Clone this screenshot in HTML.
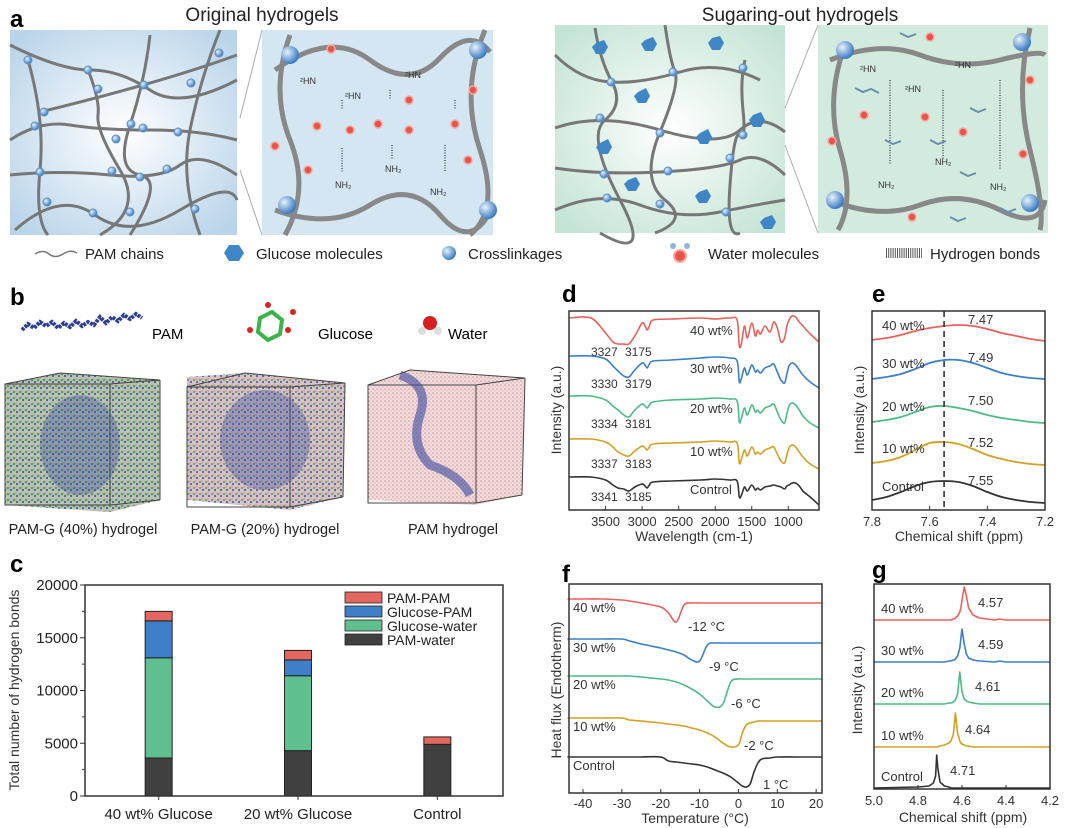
<!DOCTYPE html>
<html><head><meta charset="utf-8"><style>
html,body{margin:0;padding:0;background:#fff;}
svg{display:block;font-family:"Liberation Sans",Arial,sans-serif;}
</style></head><body>
<svg id="fig" width="1080" height="828" viewBox="0 0 1080 828" xmlns="http://www.w3.org/2000/svg">
<defs>
<radialGradient id="gBlue" cx="50%" cy="50%" r="65%"><stop offset="0" stop-color="#ffffff"/><stop offset="1" stop-color="#b9d4e9"/></radialGradient>
<radialGradient id="gGreen" cx="50%" cy="50%" r="65%"><stop offset="0" stop-color="#ffffff"/><stop offset="1" stop-color="#c4e4d4"/></radialGradient>
<radialGradient id="gNode" cx="35%" cy="35%" r="65%"><stop offset="0" stop-color="#e8f2fb"/><stop offset="1" stop-color="#3a7cc4"/></radialGradient>
<pattern id="pat40" width="6" height="6" patternUnits="userSpaceOnUse"><rect width="6" height="6" fill="#b9c6b3"/><circle cx="2" cy="2" r="1.3" fill="#5d9a5e"/><circle cx="5" cy="4" r="1.1" fill="#4a5aa8"/><circle cx="4" cy="1" r="0.7" fill="#d48b8b"/></pattern>
<pattern id="pat20" width="6" height="6" patternUnits="userSpaceOnUse"><rect width="6" height="6" fill="#d6c3c3"/><circle cx="2" cy="2" r="1.1" fill="#6aa26b"/><circle cx="5" cy="4" r="1.1" fill="#5563ad"/><circle cx="4" cy="1" r="0.8" fill="#d88"/></pattern>
<pattern id="patPam" width="4" height="4" patternUnits="userSpaceOnUse"><rect width="4" height="4" fill="#f1dede"/><circle cx="1" cy="1" r="0.8" fill="#d98e8e"/><circle cx="3" cy="3" r="0.7" fill="#e3a8a8"/></pattern>
</defs>
<g id="panelA">
  <text x="10" y="27" font-size="24" font-weight="bold">a</text>
  <text x="262" y="21" font-size="19" text-anchor="middle" fill="#222">Original hydrogels</text>
  <text x="800" y="21" font-size="19" text-anchor="middle" fill="#222">Sugaring-out hydrogels</text>
  <rect x="10" y="30" width="227" height="205" fill="url(#gBlue)"/>
  <rect x="262" y="30" width="231" height="205" fill="#d5e6f3"/>
  <rect x="555" y="25" width="230" height="208" fill="url(#gGreen)"/>
  <rect x="818" y="25" width="230" height="208" fill="#d3ebdf"/>
  <g stroke="#aaa" stroke-width="1">
    <line x1="240" y1="118" x2="262" y2="30"/><line x1="240" y1="170" x2="262" y2="235"/>
    <line x1="785" y1="108" x2="818" y2="25"/><line x1="785" y1="145" x2="818" y2="233"/>
  </g>
  <g fill="none" stroke="#777" stroke-width="3">
    <path d="M10 45 Q60 70 90 70 T150 90 T237 80"/>
    <path d="M10 140 Q40 120 70 125 T150 130 T237 140"/>
    <path d="M10 175 Q60 170 110 175 T180 165 T237 175"/>
    <path d="M15 230 Q60 190 95 215 T180 210 T237 200"/>
    <path d="M40 112 Q90 100 143 85 T237 55"/>
    <path d="M28 60 Q45 120 40 170 T48 235"/>
    <path d="M88 70 Q100 100 98 115 T120 170 T100 235"/>
    <path d="M150 35 Q145 80 130 125 T140 175 T130 235"/>
    <path d="M220 30 Q200 80 190 130 T200 235"/>
  </g>
  <g fill="url(#gNode)" stroke="#5b8fc8" stroke-width="1">
    <circle cx="28" cy="60" r="4"/><circle cx="88" cy="70" r="4"/><circle cx="98" cy="89" r="4"/><circle cx="144" cy="85" r="4"/>
    <circle cx="191" cy="83" r="4"/><circle cx="44" cy="112" r="4"/><circle cx="35" cy="126" r="4"/><circle cx="131" cy="124" r="4"/>
    <circle cx="143" cy="128" r="4"/><circle cx="178" cy="132" r="4"/><circle cx="116" cy="139" r="4"/><circle cx="40" cy="172" r="4"/>
    <circle cx="112" cy="171" r="4"/><circle cx="140" cy="177" r="4"/><circle cx="167" cy="169" r="4"/><circle cx="47" cy="202" r="4"/>
    <circle cx="93" cy="213" r="4"/><circle cx="130" cy="212" r="4"/><circle cx="195" cy="209" r="4"/><circle cx="219" cy="53" r="4"/>
  </g>
  <g fill="none" stroke="#777" stroke-width="3">
    <path d="M555 55 Q580 80 610 82 T680 72 T760 80"/>
    <path d="M555 128 Q600 112 660 130 T740 130 T785 132"/>
    <path d="M555 168 Q600 175 660 172 T740 160 T785 175"/>
    <path d="M555 210 Q600 190 640 205 T720 212 T785 200"/>
    <path d="M595 28 Q600 60 612 82 T605 120 T620 200 T600 233"/>
    <path d="M665 25 Q670 60 675 72 T660 132 T665 200 T655 233"/>
    <path d="M745 60 Q740 80 743 110 T740 135 T730 185 T740 233"/>
  </g>
  <g fill="#3f86c6">
    <polygon points="596,43 604,40 608,47 604,54 596,54 592,47"/><polygon points="645,40 653,37 657,44 653,51 645,51 641,44"/>
    <polygon points="712,38 720,36 724,43 720,50 712,50 708,43"/><polygon points="638,92 646,88 650,96 646,103 638,103 634,96"/>
    <polygon points="753,115 761,112 765,120 761,127 753,127 749,120"/><polygon points="600,143 608,139 612,147 608,154 600,154 596,147"/>
    <polygon points="700,133 708,129 712,137 708,144 700,144 696,137"/><polygon points="628,180 636,177 640,184 636,191 628,191 624,184"/>
    <polygon points="699,192 707,189 711,196 707,203 699,203 695,196"/><polygon points="764,218 772,215 776,222 772,229 764,229 760,222"/>
  </g>
  <g fill="url(#gNode)" stroke="#5b8fc8" stroke-width="1">
    <circle cx="611" cy="82" r="4"/><circle cx="673" cy="72" r="4"/><circle cx="743" cy="68" r="4"/><circle cx="600" cy="118" r="4"/>
    <circle cx="660" cy="133" r="4"/><circle cx="743" cy="135" r="4"/><circle cx="730" cy="158" r="4"/><circle cx="604" cy="174" r="4"/>
    <circle cx="668" cy="171" r="4"/><circle cx="607" cy="198" r="4"/><circle cx="660" cy="204" r="4"/><circle cx="726" cy="212" r="4"/>
  </g>
  <g>
    <path d="M275 70 Q330 30 370 60 T440 58 T490 52" fill="none" stroke="#888" stroke-width="5"/>
    <path d="M275 210 Q330 230 370 205 T440 215 T490 212" fill="none" stroke="#888" stroke-width="5"/>
    <path d="M290 35 Q270 90 290 140 T285 235" fill="none" stroke="#888" stroke-width="5"/>
    <path d="M485 30 Q460 90 480 150 T470 235" fill="none" stroke="#888" stroke-width="5"/>
    <circle cx="290" cy="55" r="9" fill="url(#gNode)"/><circle cx="478" cy="50" r="9" fill="url(#gNode)"/>
    <circle cx="287" cy="205" r="9" fill="url(#gNode)"/><circle cx="488" cy="210" r="9" fill="url(#gNode)"/>
    <g stroke="#555" stroke-width="1.5" stroke-dasharray="1 1.5"><line x1="342" y1="100" x2="342" y2="110"/><line x1="390" y1="90" x2="390" y2="100"/><line x1="455" y1="100" x2="455" y2="110"/><line x1="342" y1="148" x2="342" y2="172"/><line x1="392" y1="145" x2="392" y2="160"/><line x1="445" y1="145" x2="445" y2="172"/></g>
    <g font-size="9" fill="#333"><text x="300" y="84">²HN</text><text x="345" y="99">²HN</text><text x="405" y="78">²HN</text><text x="335" y="188">NH₂</text><text x="385" y="172">NH₂</text><text x="430" y="195">NH₂</text></g>
    <g fill="#e8534b" stroke="#f5a9a0" stroke-width="1.5"><circle cx="331" cy="49" r="4"/><circle cx="473" cy="90" r="4"/><circle cx="409" cy="100" r="4"/><circle cx="317" cy="126" r="4"/><circle cx="350" cy="130" r="4"/><circle cx="378" cy="124" r="4"/><circle cx="409" cy="130" r="4"/><circle cx="455" cy="124" r="4"/><circle cx="275" cy="146" r="4"/><circle cx="308" cy="170" r="4"/><circle cx="468" cy="160" r="4"/></g>
  </g>
  <g>
    <path d="M830 60 Q880 40 920 55 T1000 60 T1045 55" fill="none" stroke="#888" stroke-width="5"/>
    <path d="M830 200 Q880 220 920 205 T1000 210 T1045 200" fill="none" stroke="#888" stroke-width="5"/>
    <path d="M845 45 Q825 100 840 150 T838 230" fill="none" stroke="#888" stroke-width="5"/>
    <path d="M1030 28 Q1015 90 1030 150 T1040 230" fill="none" stroke="#888" stroke-width="5"/>
    <circle cx="845" cy="50" r="9" fill="url(#gNode)"/><circle cx="1022" cy="42" r="9" fill="url(#gNode)"/>
    <circle cx="835" cy="200" r="9" fill="url(#gNode)"/><circle cx="1030" cy="203" r="9" fill="url(#gNode)"/>
    <g stroke="#555" stroke-width="1.5" stroke-dasharray="1 1.5"><line x1="890" y1="80" x2="890" y2="165"/><line x1="943" y1="90" x2="943" y2="160"/><line x1="1000" y1="80" x2="1000" y2="170"/></g>
    <g font-size="9" fill="#333"><text x="860" y="72">²HN</text><text x="905" y="92">²HN</text><text x="955" y="68">²HN</text><text x="878" y="188">NH₂</text><text x="935" y="165">NH₂</text><text x="990" y="190">NH₂</text></g>
    <g fill="#e8534b" stroke="#f5a9a0" stroke-width="1.5"><circle cx="930" cy="37" r="4"/><circle cx="1030" cy="80" r="4"/><circle cx="864" cy="115" r="4"/><circle cx="925" cy="117" r="4"/><circle cx="963" cy="132" r="4"/><circle cx="832" cy="141" r="4"/><circle cx="1023" cy="154" r="4"/><circle cx="912" cy="217" r="4"/></g>
    <g stroke="#6a8fae" stroke-width="2" fill="none"><path d="M855 88 l8 4 l8 -3 l8 4"/><path d="M885 140 l8 4 l8 -3"/><path d="M930 140 l8 4 l8 -3"/><path d="M960 172 l8 4 l8 -3"/><path d="M970 108 l8 4 l8 -3"/><path d="M1000 208 l8 4 l8 -3"/><path d="M950 217 l8 4 l8 -3"/><path d="M900 33 l8 4 l8 -3"/></g>
  </g>
  <g font-size="15" fill="#222">
    <path d="M35 254 q8 -5 14 0 t14 0 t14 -1" fill="none" stroke="#777" stroke-width="1.5"/>
    <text x="85" y="259">PAM chains</text>
    <polygon points="224,253 229,245 239,245 244,253 239,261 229,261" fill="#3f86c6"/>
    <text x="256" y="259">Glucose molecules</text>
    <circle cx="449" cy="253" r="7" fill="url(#gNode)"/>
    <text x="468" y="259">Crosslinkages</text>
    <circle cx="680" cy="256" r="6" fill="#e8534b" stroke="#f5a9a0" stroke-width="2"/><circle cx="673" cy="246" r="3" fill="#8fb4de"/><circle cx="687" cy="246" r="3" fill="#8fb4de"/>
    <text x="708" y="259">Water molecules</text>
    <line x1="886" y1="253" x2="922" y2="253" stroke="#555" stroke-width="10" stroke-dasharray="1 1.2"/>
    <text x="930" y="259">Hydrogen bonds</text>
  </g>
</g>
<g id="panelB">
  <text x="10" y="305" font-size="24" font-weight="bold">b</text>
  <path d="M22 330 l6 -6 l6 4 l6 -6 l6 4 l6 -4 l6 6 l6 -5 l6 4 l6 -6 l6 5 l6 -4 l6 3 l6 -8 l6 6 l6 -6 l6 4 l6 -6 l6 4 l6 -5 l6 4" fill="none" stroke="#2c3d99" stroke-width="4" stroke-dasharray="3 1"/>
  <text x="152" y="339" font-size="15">PAM</text>
  <polygon points="260,318 272,312 282,320 280,334 268,340 258,332" fill="none" stroke="#3bb34a" stroke-width="4"/>
  <g fill="#d22"><circle cx="250" cy="330" r="3"/><circle cx="288" cy="330" r="3"/><circle cx="268" cy="305" r="3"/><circle cx="293" cy="312" r="3"/></g>
  <text x="318" y="339" font-size="15">Glucose</text>
  <circle cx="430" cy="323" r="7" fill="#d81f1f"/>
  <circle cx="422" cy="331" r="4" fill="#ddd"/><circle cx="438" cy="331" r="4" fill="#ddd"/>
  <text x="448" y="339" font-size="15">Water</text>
  <g>
    <polygon points="5,384 60,373 160,380 160,500 110,512 5,505" fill="url(#pat40)"/>
    <g fill="none" stroke="#444" stroke-width="1"><rect x="5" y="384" width="105" height="121"/><polygon points="5,384 60,373 160,380 110,384"/><line x1="160" y1="380" x2="160" y2="500"/><line x1="110" y1="505" x2="160" y2="500"/></g>
    <ellipse cx="80" cy="445" rx="40" ry="50" fill="#3a4aa0" opacity="0.35"/>
  </g>
  <g>
    <polygon points="187,377 245,373 345,383 343,497 290,510 187,500" fill="url(#pat20)"/>
    <g fill="none" stroke="#444" stroke-width="1"><rect x="187" y="387" width="103" height="120"/><polygon points="187,387 245,373 345,383 290,387"/><line x1="345" y1="383" x2="343" y2="497"/><line x1="290" y1="507" x2="343" y2="497"/></g>
    <ellipse cx="265" cy="440" rx="45" ry="50" fill="#3a4aa0" opacity="0.35"/>
  </g>
  <g>
    <polygon points="368,385 410,370 525,378 522,495 475,505 368,500" fill="url(#patPam)"/>
    <g fill="none" stroke="#444" stroke-width="1"><rect x="368" y="385" width="108" height="118"/><polygon points="368,385 410,370 525,378 476,385"/><line x1="525" y1="378" x2="522" y2="495"/><line x1="476" y1="503" x2="522" y2="495"/></g>
    <path d="M400 375 q30 10 20 40 q-10 30 10 50 q30 10 40 30" fill="none" stroke="#3a4aa0" stroke-width="9" opacity="0.6"/>
  </g>
  <g font-size="14.5" fill="#222" text-anchor="middle">
    <text x="83" y="534">PAM-G (40%) hydrogel</text>
    <text x="265" y="534">PAM-G (20%) hydrogel</text>
    <text x="453" y="534">PAM hydrogel</text>
  </g>
</g>
<g id="panelC">
  <text x="10" y="572" font-size="24" font-weight="bold">c</text>
</g>
<g id="panelD">
  <text x="562" y="302" font-size="24" font-weight="bold">d</text>
</g>
<g id="panelE">
  <text x="872" y="302" font-size="24" font-weight="bold">e</text>
</g>
<g id="panelF">
  <text x="562" y="582" font-size="24" font-weight="bold">f</text>
</g>
<g id="panelG">
  <text x="872" y="578" font-size="24" font-weight="bold">g</text>
</g>
</svg>
<script>
// ---------- data ----------
const cCategories = ["40 wt% Glucose", "20 wt% Glucose", "Control"];
const cSeriesNames = ["PAM-water", "Glucose-water", "Glucose-PAM", "PAM-PAM"];
const cPamWater = [3600, 4300, 4900];
const cGlucoseWater = [9500, 7100, 0];
const cGlucosePam = [3500, 1500, 0];
const cPamPam = [900, 900, 700];
const cYTicks = [0, 5000, 10000, 15000, 20000];

const seriesLabels = ["40 wt%", "30 wt%", "20 wt%", "10 wt%", "Control"];
const dTicks = [3500, 3000, 2500, 2000, 1500, 1000];
const dWave = [4000,3700,3500,3400,3330,3250,3180,3100,3000,2960,2930,2900,2850,2600,2200,2000,1800,1700,1670,1640,1600,1560,1500,1450,1420,1380,1320,1250,1200,1150,1100,1050,1020,990,950,900,850,800,700,580];
const dRed = [0,0,-15,-24,-26,-26,-26,-18,-5,-8,-12,-8,-2,-1,0,-1,0,-2,-28,-25,-8,-20,-5,-18,-12,-16,-8,-14,-4,-10,-24,-20,-8,-2,2,1,-4,-8,-16,-24];
const dBlue = [0,0,-3,-10,-15,-20,-21,-14,-7,-9,-12,-8,-5,-4,-2,-1,-2,-5,-26,-22,-12,-19,-9,-16,-14,-17,-12,-10,-8,-16,-24,-27,-18,-10,-7,-9,-14,-19,-26,-32];
const dGreen = [0,0,-4,-10,-14,-19,-21,-14,-8,-10,-12,-9,-6,-4,-3,-2,-3,-5,-26,-22,-12,-19,-9,-16,-14,-17,-12,-10,-8,-16,-24,-27,-18,-10,-7,-9,-14,-20,-27,-32];
const dOrange = [0,0,-3,-8,-13,-16,-17,-12,-7,-9,-11,-8,-5,-4,-3,-2,-3,-4,-24,-20,-11,-17,-8,-15,-13,-15,-11,-9,-8,-15,-22,-24,-16,-9,-6,-8,-13,-18,-25,-30];
const dBlack = [0,0,-3,-8,-11,-12,-14,-10,-7,-9,-11,-8,-5,-4,-3,-2,-3,-4,-20,-18,-10,-14,-8,-13,-11,-13,-10,-9,-8,-9,-10,-12,-9,-8,-6,-6,-9,-14,-20,-28];
const dOffsets = [192, 154, 114, 71, 33];
const dPeakLabels = [["3327","3175"],["3330","3179"],["3334","3181"],["3337","3183"],["3341","3185"]];
const dPeakLabelDepth = [38, 32, 32, 29, 24];

const eTicks = [7.8, 7.6, 7.4, 7.2];
const ePpm = [7.8,7.75,7.7,7.65,7.6,7.55,7.5,7.45,7.4,7.35,7.3,7.25,7.2];
const eRed = [2,4,7,11,14,16,17,16,13,9,6,3,1];
const eBlue = [1,3,6,11,17,20,20,17,12,7,4,2,1];
const eGreen = [1,3,6,11,16,17,15,12,8,5,3,1,0];
const eOrange = [2,4,8,15,22,23,21,16,10,6,3,1,0];
const eBlack = [3,6,11,17,21,22,21,17,11,6,3,1,0];
const eOffsets = [168, 130, 87, 45, 7];
const eShiftLabels = ["7.47","7.49","7.50","7.52","7.55"];
const eReference = 7.55;

const fTicks = [-40,-30,-20,-10,0,10,20];
const fTemp = [-44,-40,-35,-30,-28,-25,-20,-18,-16,-14,-12,-10,-8,-6,-4,-2,0,1,2,3,4,5,6,8,10,15,21.5];
const fRed = [0,0,0,-1,-2,-4,-8,-14,-23,-6,-4,-4,-4,-4,-4,-4,-4,-4,-4,-4,-4,-4,-4,-4,-4,-4,-4];
const fBlue = [0,0,0,0,-2,-5,-9,-11,-13,-16,-21,-22,-6,-4,-4,-4,-4,-4,-4,-4,-4,-4,-4,-4,-4,-4,-4];
const fGreen = [0,0,0,0,0,-1,-3,-4,-6,-9,-13,-18,-25,-31,-28,-6,-3,-3,-3,-3,-3,-3,-3,-3,-3,-3,-3];
const fOrange = [0,0,0,0,-2,-3,-5,-6,-7,-8,-10,-12,-15,-19,-25,-29,-27,-15,-7,-5,-4,-3,-3,-3,-3,-3,-3];
const fBlack = [0,0,0,0,0,0,0,-4,-5,-6,-7,-8,-10,-13,-16,-20,-26,-29,-30,-27,-15,-6,-2,-1,0,0,0];
const fOffsets = [194, 154, 117, 75, 36];
const fTempLabels = ["-12 °C","-9 °C","-6 °C","-2 °C","1 °C"];

const gTicks = [5.0, 4.8, 4.6, 4.4, 4.2];
const gPpm = [5.0,4.8,4.75,4.73,4.72,4.715,4.71,4.70,4.68,4.66,4.65,4.64,4.635,4.63,4.62,4.61,4.605,4.60,4.59,4.58,4.57,4.55,4.52,4.45,4.43,4.4,4.2];
const gRed = [0,0,0,0,0,0,0,0,0,0,0,1,1,2,4,8,12,20,33,24,12,5,2,0,1,0,0];
const gBlue = [0,0,0,0,0,0,0,0,0,1,1,2,2,3,6,14,24,33,18,8,4,2,1,0,1,0,0];
const gGreen = [0,0,0,0,0,0,0,0,0,1,1,2,3,4,10,32,22,12,5,3,2,1,0,0,0,0,0];
const gOrange = [0,0,0,0,0,0,0,1,2,4,6,12,22,34,14,6,4,3,2,1,1,0,0,0,0,0,0];
const gBlack = [0,1,2,5,12,33,20,6,2,1,0,0,0,0,0,0,0,0,0,0,0,0,0,0,0,0,0];
const gOffsets = [169, 127, 85, 42, 1];
const gShiftLabels = ["4.57","4.59","4.61","4.64","4.71"];

const COLORS = ["#e8625c", "#3c7fc9", "#4dbb86", "#d4a024", "#333333"];
const C_COLORS = ["#404040", "#5fbf8f", "#3f7fc9", "#e4675f"];

// ---------- helpers ----------
const NS = "http://www.w3.org/2000/svg";
function mk(tag, attrs, parent) {
  const e = document.createElementNS(NS, tag);
  for (const k in attrs) e.setAttribute(k, attrs[k]);
  parent.appendChild(e);
  return e;
}
function txt(str, attrs, parent) {
  const e = mk("text", attrs, parent);
  e.textContent = str;
  return e;
}
function smoothPath(pts) {
  let d = "M" + pts[0][0].toFixed(1) + " " + pts[0][1].toFixed(1);
  for (let i = 0; i < pts.length - 1; i++) {
    const p0 = pts[Math.max(0, i - 1)], p1 = pts[i], p2 = pts[i + 1], p3 = pts[Math.min(pts.length - 1, i + 2)];
    const c1x = p1[0] + (p2[0] - p0[0]) / 6, c1y = p1[1] + (p2[1] - p0[1]) / 6;
    const c2x = p2[0] - (p3[0] - p1[0]) / 6, c2y = p2[1] - (p3[1] - p1[1]) / 6;
    d += " C" + c1x.toFixed(1) + " " + c1y.toFixed(1) + " " + c2x.toFixed(1) + " " + c2y.toFixed(1) + " " + p2[0].toFixed(1) + " " + p2[1].toFixed(1);
  }
  return d;
}
function linePath(pts) {
  return pts.map((p, i) => (i ? "L" : "M") + p[0].toFixed(1) + " " + p[1].toFixed(1)).join(" ");
}
function frame(g, x0, y0, x1, y1) {
  const r = mk("rect", {x: x0, y: y0, width: x1 - x0, height: y1 - y0, fill: "none", stroke: "#333", "stroke-width": 1.5}, g);
  
  
}
function ytitle(g, str, x, y) {
  const t = txt(str, {x: x, y: y, "font-size": 14, "text-anchor": "middle", transform: "rotate(-90 " + x + " " + y + ")", fill: "#333"}, g);
  
  
}
function xtitle(g, str, x, y) {
  const t = txt(str, {x: x, y: y, "font-size": 14, "text-anchor": "middle", fill: "#333"}, g);
  
  
}
function xticks(g, ticks, sx, yb, ylab, fmt) {
  ticks.forEach(v => {
    const x = sx(v);
    const l = mk("line", {x1: x, y1: yb, x2: x, y2: yb - 4, stroke: "#333", "stroke-width": 1}, g);
    
    
    const t = txt(fmt(v), {x: x, y: ylab, "font-size": 13, "text-anchor": "middle", fill: "#333"}, g);
    
    
  });
}

// ---------- panel c ----------
(function () {
  const g = document.getElementById("panelC");
  const X0 = 85, X1 = 503, Y0 = 585, Y1 = 796;
  const yC = v => Y1 - v / 20000 * (Y1 - Y0);
  const band = (X1 - X0) / cCategories.length;
  const xC = i => X0 + band * (i + 0.5) + 4;
  const bw = 27;
  const stacks = [cPamWater, cGlucoseWater, cGlucosePam, cPamPam];
  cCategories.forEach((cat, i) => {
    let acc = 0;
    stacks.forEach((arr, s) => {
      const v = arr[i];
      if (v > 0) {
        const r = mk("rect", {x: xC(i) - bw / 2, y: yC(acc + v), width: bw, height: yC(acc) - yC(acc + v), fill: C_COLORS[s], stroke: "#222", "stroke-width": 1}, g);
        
        
      }
      acc += v;
    });
    const t = txt(cat, {x: xC(i), y: 819, "font-size": 15, "text-anchor": "middle", fill: "#222"}, g);
    
    
    const tk = mk("line", {x1: xC(i), y1: Y1, x2: xC(i), y2: Y1 + 4, stroke: "#333"}, g);
    
    
  });
  frame(g, X0, Y0, X1, Y1);
  cYTicks.forEach(v => {
    const l = mk("line", {x1: X0 - 5, y1: yC(v), x2: X0, y2: yC(v), stroke: "#333"}, g);
    
    
    if (v < 20000) {
      const m = mk("line", {x1: X0 - 3, y1: yC(v + 2500), x2: X0, y2: yC(v + 2500), stroke: "#333"}, g);
      
      
    }
    const t = txt(String(v), {x: X0 - 7, y: yC(v) + 5, "font-size": 15, "text-anchor": "end", fill: "#222"}, g);
    
    
  });
  ytitle(g, "Total number of hydrogen bonds", 19, 690);
  const legend = mk("g", {}, g);
  
  
  [3, 2, 1, 0].forEach((s, k) => {
    const y = 592 + k * 14;
    const r = mk("rect", {x: 345, y: y, width: 37, height: 11, fill: C_COLORS[s], stroke: "#222", "stroke-width": 0.8}, legend);
    
    
    const t = txt(cSeriesNames[s], {x: 387, y: y + 11, "font-size": 14, fill: "#222"}, legend);
    
    
  });
})();

// ---------- panel d ----------
(function () {
  const g = document.getElementById("panelD");
  const X0 = 569, X1 = 819, Y0 = 311, Y1 = 510;
  const xD = w => X0 + (4000 - w) / (4000 - 580) * (X1 - X0);
  const yD = v => Y1 - v;
  const series = [dRed, dBlue, dGreen, dOrange, dBlack];
  series.forEach((arr, s) => {
    const pts = dWave.map((w, i) => [xD(w), yD(dOffsets[s] + arr[i])]);
    const p = mk("path", {d: smoothPath(pts), fill: "none", stroke: COLORS[s], "stroke-width": 1.6}, g);
    
    
    const base = yD(dOffsets[s]);
    const l = txt(seriesLabels[s], {x: 690, y: base + 17, "font-size": 13, fill: "#333"}, g);
    
    
    const a = txt(dPeakLabels[s][0], {x: 591, y: base + dPeakLabelDepth[s], "font-size": 12, fill: "#333"}, g);
    
    
    const b = txt(dPeakLabels[s][1], {x: 625, y: base + dPeakLabelDepth[s], "font-size": 12, fill: "#333"}, g);
    
    
  });
  frame(g, X0, Y0, X1, Y1);
  xticks(g, dTicks, xD, Y1, 526, v => String(v));
  xtitle(g, "Wavelength (cm-1)", 694, 541);
  ytitle(g, "Intensity (a.u.)", 561, 410);
})();

// ---------- panel e ----------
(function () {
  const g = document.getElementById("panelE");
  const X0 = 872, X1 = 1045, Y0 = 311, Y1 = 510;
  const xE = v => X0 + (7.8 - v) / 0.6 * (X1 - X0);
  const yE = v => Y1 - v;
  const series = [eRed, eBlue, eGreen, eOrange, eBlack];
  series.forEach((arr, s) => {
    const pts = ePpm.map((v, i) => [xE(v), yE(eOffsets[s] + arr[i])]);
    const p = mk("path", {d: smoothPath(pts), fill: "none", stroke: COLORS[s], "stroke-width": 1.8}, g);
    
    
    const base = yE(eOffsets[s]);
    const l = txt(seriesLabels[s], {x: 882, y: base - 12, "font-size": 13, fill: "#333"}, g);
    
    
    const a = txt(eShiftLabels[s], {x: 968, y: base - 18, "font-size": 13, fill: "#333"}, g);
    
    
  });
  const dl = mk("line", {x1: xE(eReference), y1: Y0, x2: xE(eReference), y2: Y1, stroke: "#333", "stroke-width": 1.6, "stroke-dasharray": "6 4"}, g);
  
  
  frame(g, X0, Y0, X1, Y1);
  xticks(g, eTicks, xE, Y1, 526, v => v.toFixed(1));
  xtitle(g, "Chemical shift  (ppm)", 959, 541);
  ytitle(g, "Intensity (a.u.)", 864, 410);
})();

// ---------- panel f ----------
(function () {
  const g = document.getElementById("panelF");
  const X0 = 569, X1 = 822, Y0 = 584, Y1 = 793;
  const xF = v => X0 + (v + 43.6) / 65.1 * (X1 - X0);
  const yF = v => Y1 - v;
  const series = [fRed, fBlue, fGreen, fOrange, fBlack];
  const lx = [688, 709, 731, 744, 763];
  series.forEach((arr, s) => {
    const pts = fTemp.map((v, i) => [xF(v), yF(fOffsets[s] + arr[i])]);
    const p = mk("path", {d: smoothPath(pts), fill: "none", stroke: COLORS[s], "stroke-width": 1.6}, g);
    
    
    const base = yF(fOffsets[s]);
    const l = txt(seriesLabels[s], {x: 573, y: base + 13, "font-size": 13, fill: "#333"}, g);
    
    
    const a = txt(fTempLabels[s], {x: lx[s], y: base + 32, "font-size": 13, fill: "#333"}, g);
    
    
  });
  frame(g, X0, Y0, X1, Y1);
  xticks(g, fTicks, xF, Y1, 808, v => String(v));
  xtitle(g, "Temperature (°C)", 695, 823);
  ytitle(g, "Heat flux (Endotherm)", 561, 690);
})();

// ---------- panel g ----------
(function () {
  const g = document.getElementById("panelG");
  const X0 = 874, X1 = 1050, Y0 = 584, Y1 = 789;
  const xG = v => X0 + (5.0 - v) / 0.8 * (X1 - X0);
  const yG = v => Y1 - v;
  const series = [gRed, gBlue, gGreen, gOrange, gBlack];
  const lx = [978, 978, 975, 965, 950];
  series.forEach((arr, s) => {
    const pts = gPpm.map((v, i) => [xG(v), yG(gOffsets[s] + arr[i])]);
    const p = mk("path", {d: linePath(pts), fill: "none", stroke: COLORS[s], "stroke-width": 1.6, "stroke-linejoin": "round"}, g);
    
    
    const base = yG(gOffsets[s]);
    const l = txt(seriesLabels[s], {x: 881, y: base - 7, "font-size": 13, fill: "#333"}, g);
    
    
    const a = txt(gShiftLabels[s], {x: lx[s], y: base - 13, "font-size": 13, fill: "#333"}, g);
    
    
  });
  frame(g, X0, Y0, X1, Y1);
  xticks(g, gTicks, xG, Y1, 805, v => v.toFixed(1));
  xtitle(g, "Chemical shift  (ppm)", 963, 822);
  ytitle(g, "Intensity (a.u.)", 862, 690);
})();
</script>
</body></html>
